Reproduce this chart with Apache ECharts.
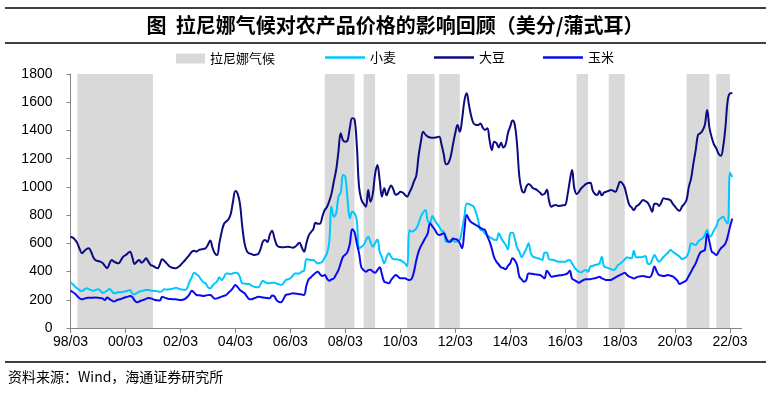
<!DOCTYPE html>
<html><head><meta charset="utf-8">
<script src="https://cdn.jsdelivr.net/npm/echarts@6/dist/echarts.min.js"></script>
<style>html,body{margin:0;padding:0;background:#fff}#c{width:771px;height:394px}</style>
</head><body><div id="c"></div>
<script>
// Monthly categories 1998/03 .. 2022/08 (axis extends past the last data point)
const startYear = 1998, startMonth = 3, monthCount = 294;
const months = [];
for (let i = 0; i < monthCount; i++) {
  const m = (startMonth - 1 + i) % 12 + 1;
  const y = startYear + Math.floor((startMonth - 1 + i) / 12);
  months.push(String(y % 100).padStart(2, '0') + '/' + String(m).padStart(2, '0'));
}
const yTicks = [0, 200, 400, 600, 800, 1000, 1200, 1400, 1600, 1800];

// La Niña periods [start, end] (month labels)
const laNina = [
  ['98/06', '01/03'], ['07/06', '08/07'], ['08/11', '09/04'], ['10/06', '11/06'],
  ['11/08', '12/05'], ['16/08', '17/01'], ['17/10', '18/05'], ['20/08', '21/06'], ['21/09', '22/03']
];

// 大豆 soybean (cents/bushel), monthly from 98/03
const soybean = [
  647, 640, 624, 600, 560, 529, 545, 560, 565, 540,
  500, 480, 475, 470, 460, 440, 423, 455, 482, 470, 462, 458,
  480, 505, 515, 530, 541, 500, 453, 470, 482, 463, 475, 494,
  470, 446, 440, 430, 423, 450, 487, 475, 458, 440, 430, 425,
  423, 432, 445, 463, 480, 500, 520, 540, 548, 541, 552, 557,
  560, 565, 590, 620, 570, 530, 517, 600, 680, 737, 755, 770,
  810, 900, 970, 950, 880, 720, 600, 545, 529, 525, 517, 520,
  525, 560, 612, 624, 610, 660, 690, 640, 590, 575, 573, 572,
  574, 576, 573, 569, 575, 590, 605, 570, 541, 600, 655, 680,
  700, 746, 738, 740, 790, 836, 858, 900, 954, 1040, 1120, 1250,
  1380, 1330, 1320, 1330, 1420, 1486, 1480, 1300, 1000, 910, 880, 860,
  978, 895, 950, 1090, 1155, 1050, 931, 990, 940, 980, 1010, 980,
  945, 950, 966, 960, 945, 931, 960, 995, 1040, 1080, 1220, 1320,
  1391, 1370, 1356, 1350, 1348, 1349, 1352, 1356, 1300, 1230, 1160, 1170,
  1214, 1300, 1380, 1438, 1391, 1480, 1610, 1663, 1580, 1500, 1450, 1440,
  1438, 1450, 1420, 1403, 1415, 1330, 1261, 1320, 1310, 1280, 1313, 1280,
  1300, 1380, 1427, 1470, 1440, 1300, 1072, 980, 960, 1001, 1020, 1010,
  990, 985, 973, 960, 945, 950, 980, 900, 860, 868, 872, 865,
  866, 870, 872, 940, 1040, 1120, 990, 950, 965, 990, 1005, 1020,
  1028, 1030, 975, 950, 942, 970, 940, 960, 966, 972, 978, 972,
  966, 1000, 1037, 1025, 995, 930, 872, 855, 836, 862, 872, 890,
  907, 900, 888, 860, 824, 880, 880, 865, 890, 919, 915, 912,
  905, 880, 860, 840, 831, 860, 879, 907, 1000, 1060, 1167, 1260,
  1368, 1380, 1400, 1440, 1545, 1420, 1350, 1300, 1273, 1235, 1220, 1285,
  1427, 1616, 1663, 1665
];

// 小麦 wheat
const wheat = [
  321, 310, 293, 280, 268, 262, 272, 281, 275, 268,
  264, 270, 274, 265, 248, 255, 265, 276, 262, 246, 250, 253,
  253, 256, 260, 264, 269, 245, 239, 248, 257, 262, 266, 269,
  269, 266, 264, 262, 260, 257, 262, 274, 272, 274, 276, 280,
  286, 280, 274, 272, 270, 285, 328, 360, 392, 380, 368, 345,
  325, 317, 290, 281, 300, 317, 330, 359, 340, 360, 387, 385,
  383, 388, 392, 388, 360, 317, 315, 313, 312, 300, 293, 290,
  288, 310, 335, 325, 317, 318, 320, 321, 315, 310, 305, 318,
  340, 345, 352, 370, 387, 387, 387, 400, 406, 487, 485, 482,
  482, 470, 458, 462, 470, 500, 529, 612, 860, 789, 813, 931,
  960, 1084, 1072, 907, 777, 824, 813, 765, 565, 575, 588, 620,
  647, 610, 576, 600, 628, 541, 500, 458, 500, 529, 505, 487,
  487, 485, 482, 470, 458, 439, 694, 683, 690, 706, 742, 790,
  820, 836, 760, 746, 794, 765, 740, 718, 690, 683, 612, 615,
  624, 620, 612, 615, 624, 700, 789, 883, 879, 870, 860, 820,
  765, 694, 690, 670, 659, 645, 635, 625, 624, 671, 640, 612,
  590, 557, 671, 675, 635, 570, 541, 501, 529, 560, 600, 530,
  505, 500, 494, 490, 482, 534, 534, 487, 484, 482, 475, 470,
  470, 470, 470, 478, 482, 458, 430, 411, 400, 394, 405, 411,
  399, 435, 440, 446, 450, 458, 505, 435, 430, 423, 418, 411,
  420, 446, 455, 470, 485, 501, 496, 494, 548, 501, 501, 501,
  505, 510, 458, 453, 485, 517, 490, 470, 485, 505, 520, 535,
  553, 540, 529, 517, 505, 487, 495, 505, 540, 600, 595, 588,
  610, 625, 635, 660, 694, 647, 660, 694, 720, 765, 778, 789,
  760, 740, 1100, 1070
];

// 玉米 corn
const corn = [
  264, 255, 242, 225, 210, 203, 208, 213, 214, 215,
  215, 216, 215, 212, 210, 198, 217, 205, 195, 187, 195, 202,
  206, 212, 218, 222, 226, 220, 195, 182, 188, 195, 200, 206,
  213, 210, 205, 198, 196, 194, 222, 215, 210, 206, 205, 204,
  203, 201, 198, 200, 206, 220, 240, 264, 250, 234, 232, 230,
  227, 230, 233, 234, 222, 208, 210, 216, 222, 228, 234, 250,
  265, 285, 305, 290, 269, 258, 246, 225, 205, 203, 210, 215,
  222, 220, 216, 214, 212, 210, 230, 225, 198, 185, 182, 205,
  234, 238, 242, 246, 244, 242, 240, 238, 234, 300, 345, 360,
  376, 390, 399, 380, 368, 376, 350, 335, 345, 352, 380, 411,
  460, 505, 520, 541, 600, 700, 680, 600, 530, 430, 410, 399,
  410, 412, 400, 392, 410, 430, 380, 328, 322, 317, 340, 360,
  376, 365, 352, 352, 352, 345, 340, 350, 400, 480, 541, 580,
  610, 640, 671, 742, 720, 700, 670, 659, 665, 671, 640, 612,
  612, 635, 630, 624, 600, 565, 694, 801, 770, 750, 740, 730,
  720, 710, 700, 694, 650, 612, 560, 500, 470, 450, 430, 425,
  416, 440, 458, 494, 480, 446, 364, 345, 328, 340, 387, 385,
  383, 380, 378, 376, 365, 352, 406, 385, 364, 366, 369, 372,
  374, 376, 380, 387, 406, 350, 340, 330, 321, 330, 340, 345,
  345, 346, 350, 352, 358, 364, 352, 346, 340, 340, 340, 350,
  359, 368, 376, 384, 392, 375, 364, 358, 350, 358, 364, 366,
  369, 365, 362, 359, 387, 435, 400, 376, 372, 369, 372, 376,
  370, 365, 352, 335, 312, 320, 328, 340, 370, 399, 430, 458,
  500, 534, 545, 553, 666, 612, 541, 530, 517, 540, 565, 580,
  600, 650, 720, 775
];

const FONT = '"Liberation Sans", Arial, "Noto Sans CJK SC", sans-serif';
const CJK = '"Noto Sans CJK SC", sans-serif';
const chart = echarts.init(document.getElementById('c'), null, {renderer: 'canvas'});

const lineSeries = (name, data, color) => ({
  name, type: 'line', data, symbol: 'none', smooth: 0.4, z: 3,
  lineStyle: {color, width: 2}, itemStyle: {color}
});

chart.setOption({
  animation: false,
  backgroundColor: '#fff',
  grid: {left: 70.5, right: 29.5, top: 74, bottom: 66},
  legend: [
    {data: [{name: '拉尼娜气候', icon: 'rect'}], left: 176, top: 52, padding: 0,
     itemWidth: 29, itemHeight: 10, textStyle: {fontFamily: CJK, fontSize: 13, color: '#000'}},
    {data: [{name: '小麦', icon: 'rect'}, {name: '大豆', icon: 'rect'}, {name: '玉米', icon: 'rect'}],
     left: 325, top: 51, padding: 0, itemGap: 38,
     itemWidth: 40, itemHeight: 2.5, textStyle: {fontFamily: CJK, fontSize: 13, color: '#000'}}
  ],
  xAxis: {
    type: 'category', data: months, boundaryGap: false,
    axisLine: {lineStyle: {color: '#868686', width: 1}},
    axisTick: {interval: 23, length: 5, lineStyle: {color: '#868686'}},
    axisLabel: {interval: 23, color: '#000', fontFamily: FONT, fontSize: 14, margin: 7},
    splitLine: {show: false}
  },
  yAxis: {
    type: 'value', min: yTicks[0], max: yTicks[yTicks.length - 1], interval: 200,
    axisLine: {show: true, lineStyle: {color: '#868686', width: 1}},
    axisTick: {show: true, length: 4, lineStyle: {color: '#868686'}},
    axisLabel: {color: '#000', fontFamily: FONT, fontSize: 14, margin: 18, formatter: v => String(v)},
    splitLine: {show: false}
  },
  graphic: [
    {type: 'line', shape: {x1: 5, y1: 8, x2: 766, y2: 8}, style: {stroke: '#000', lineWidth: 1.5}},
    {type: 'text', x: 395, y: 25, style: {text: '图  拉尼娜气候对农产品价格的影响回顾（美分/蒲式耳）',
      fontFamily: CJK, fontWeight: 'bold', fontSize: 20, fill: '#000', textAlign: 'center', textVerticalAlign: 'middle'}},
    {type: 'line', shape: {x1: 5, y1: 43, x2: 766, y2: 43}, style: {stroke: '#000', lineWidth: 1.5}},
    {type: 'line', shape: {x1: 5, y1: 362, x2: 766, y2: 362}, style: {stroke: '#000', lineWidth: 1.5}},
    {type: 'text', x: 8, y: 377, style: {text: '资料来源：Wind，海通证券研究所',
      fontFamily: CJK, fontSize: 14, fill: '#000', textVerticalAlign: 'middle'}}
  ],
  series: [
    {name: '拉尼娜气候', type: 'line', data: [], z: 1, itemStyle: {color: '#d9d9d9'},
     markArea: {silent: true, itemStyle: {color: '#d9d9d9', opacity: 1},
       data: laNina.map(p => [{xAxis: p[0]}, {xAxis: p[1]}])}},
    lineSeries('小麦', wheat, '#00c8ff'),
    lineSeries('大豆', soybean, '#0c0c80'),
    lineSeries('玉米', corn, '#0a0af0')
  ]
});
</script></body></html>
